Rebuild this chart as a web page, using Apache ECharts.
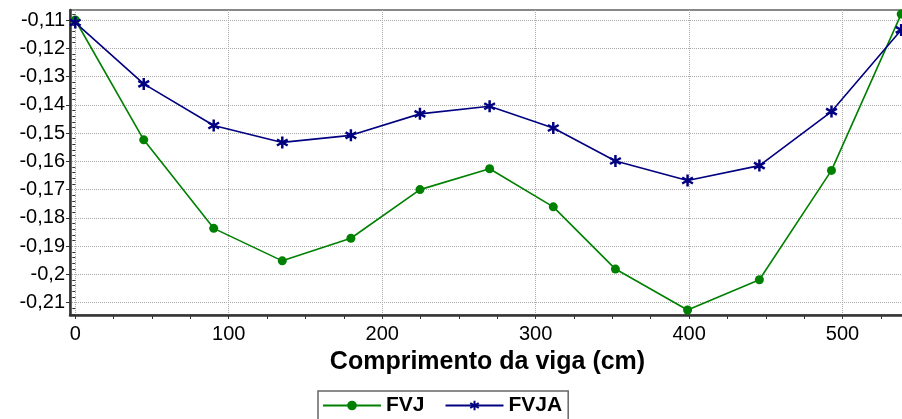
<!DOCTYPE html>
<html>
<head>
<meta charset="utf-8">
<script src="https://cdn.jsdelivr.net/npm/echarts@6/dist/echarts.min.js"></script>
<style>
    html, body { margin: 0; padding: 0; background: #fff; }
    #chart { width: 902px; height: 419px; }
</style>
</head>
<body>
<div id="chart"></div>
<script>
// posições ao longo da viga (cm)
var posicoes = [0, 44.6, 90.2, 134.9, 179.6, 224.6, 270, 311.5, 352, 399, 445.8, 492.8, 538.2];
// deslocamentos
var fvj  = [-0.1100, -0.1524, -0.1837, -0.1952, -0.1872, -0.1700, -0.1626, -0.1761, -0.1981, -0.2126, -0.2019, -0.1632, -0.1079];
var fvja = [-0.1109, -0.1326, -0.1473, -0.1533, -0.1508, -0.1432, -0.1405, -0.1482, -0.1599, -0.1668, -0.1615, -0.1424, -0.1135];
// marcas dos eixos
var xTicks = [0, 100, 200, 300, 400, 500];
var xMinorTicks = [25, 50, 75, 125, 150, 175, 225, 250, 275, 325, 350, 375, 425, 450, 475, 525];
var yTicks = [-0.21, -0.2, -0.19, -0.18, -0.17, -0.16, -0.15, -0.14, -0.13, -0.12, -0.11];

var yMinorTicks = [];
for (var k = -214; k <= -108; k += 2) {
    if (k % 10 !== 0) yMinorTicks.push(k / 1000);
}

function pontos(ys) {
    var out = [];
    for (var i = 0; i < posicoes.length; i++) out.push([posicoes[i], ys[i]]);
    return out;
}

// asterisco (três barras)
var asterisco = 'path://M-0.2,-1L0.2,-1L0.2,1L-0.2,1Z' +
    'M0.766,-0.673L0.966,-0.327L-0.766,0.673L-0.966,0.327Z' +
    'M-0.966,-0.327L-0.766,-0.673L0.966,0.327L0.766,0.673Z';

var fonte = "'Liberation Sans', Arial, sans-serif";
var xMin = -3.45, xMax = 540.7;
var yMin = -0.21435, yMax = -0.10646;

var myChart = echarts.init(document.getElementById('chart'));
var option = {
    animation: false,
    backgroundColor: '#fff',
    grid: {
        left: 70,
        top: 10,
        right: -3,
        bottom: 104,
        show: true,
        borderColor: '#888',
        borderWidth: 2,
        outerBoundsMode: 'none'
    },
    legend: {
        data: ['FVJ', 'FVJA'],
        left: 318,
        top: 391,
        borderColor: '#666',
        borderWidth: 1.5,
        padding: [4, 6, 8, 4],
        itemWidth: 58,
        itemHeight: 12,
        itemGap: 20,
        textStyle: {
            fontFamily: fonte,
            fontSize: 21,
            fontWeight: 'bold',
            color: '#000'
        }
    },
    xAxis: [{
        type: 'value',
        min: xMin,
        max: xMax,
        name: 'Comprimento da viga (cm)',
        nameLocation: 'middle',
        nameGap: 35,
        nameTextStyle: {
            fontFamily: fonte,
            fontSize: 25,
            fontWeight: 'bold',
            color: '#000'
        },
        axisLine: { show: true, onZero: false, lineStyle: { color: '#333', width: 2.5 } },
        axisTick: { show: true, length: 4, customValues: xTicks, lineStyle: { color: '#333' } },
        axisLabel: {
            customValues: xTicks,
            margin: 9,
            fontFamily: fonte,
            fontSize: 20,
            color: '#000'
        },
        splitLine: { show: true, lineStyle: { color: '#aaa', type: 'dotted', width: 1 } }
    }, {
        // marcas menores
        type: 'value',
        position: 'bottom',
        min: xMin,
        max: xMax,
        axisLine: { show: false },
        axisTick: { show: true, length: 4, customValues: xMinorTicks, lineStyle: { color: '#333' } },
        axisLabel: { show: false },
        splitLine: { show: false }
    }],
    yAxis: [{
        type: 'value',
        min: yMin,
        max: yMax,
        axisLine: { show: true, onZero: false, lineStyle: { color: '#333', width: 2.5 } },
        axisTick: { show: true, length: 4, customValues: yTicks, lineStyle: { color: '#333' } },
        axisLabel: {
            customValues: yTicks,
            margin: 5,
            fontFamily: fonte,
            fontSize: 20,
            color: '#000',
            formatter: function (v) {
                return String(Math.round(v * 100) / 100).replace('.', ',');
            }
        },
        splitLine: { show: true, lineStyle: { color: '#aaa', type: 'dotted', width: 1 } }
    }, {
        type: 'value',
        position: 'left',
        min: yMin,
        max: yMax,
        axisLine: { show: false },
        axisTick: { show: true, length: 3, customValues: yMinorTicks, lineStyle: { color: '#333' } },
        axisLabel: { show: false },
        splitLine: { show: false }
    }],
    series: [{
        name: 'FVJ',
        type: 'line',
        data: pontos(fvj),
        symbol: 'circle',
        symbolSize: 9,
        clip: false,
        color: '#008000',
        lineStyle: { color: '#008000', width: 1.6 },
        itemStyle: { color: '#008000' }
    }, {
        name: 'FVJA',
        type: 'line',
        data: pontos(fvja),
        symbol: asterisco,
        symbolSize: 12,
        clip: false,
        color: '#000080',
        lineStyle: { color: '#000080', width: 1.6 },
        itemStyle: { color: '#000080' }
    }]
};
myChart.setOption(option);
</script>
</body>
</html>
